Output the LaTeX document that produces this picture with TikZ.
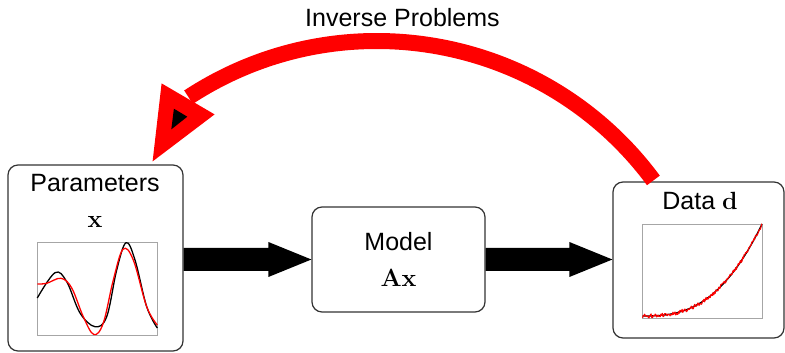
\documentclass[tikz,border=0pt]{standalone}
\usepackage[no-math]{fontspec}
\newfontfamily\labelfont{Liberation Sans}
\usetikzlibrary{calc}

% fat black block arrow between two points at the same height
\newcommand\fatarrow[2]{%
  \fill ($(#1)+(0,11.5)$) -- ($(#2)+(-43,11.5)$) -- ($(#2)+(-43,17.5)$) -- (#2)
        -- ($(#2)+(-43,-17.5)$) -- ($(#2)+(-43,-11.5)$) -- ($(#1)+(0,-11.5)$) -- cycle;}

\begin{document}
\begin{tikzpicture}[x=1pt,y=1pt,
  panel/.style={draw=black!80, line width=1.2pt, rounded corners=10pt, fill=white, inner sep=0pt},
  frame/.style={draw=black!35, line width=0.9pt, inner sep=0pt},
  label/.style={font=\labelfont\fontsize{25}{30}\selectfont, anchor=base, inner sep=0pt},
  inverse/.style={draw=red, line width=16pt},
  curve/.style={line width=1.3pt, line join=round}]
\useasboundingbox (0,0) rectangle (785,353);
\pgfmathsetseed{4711}

% boxes
\node[panel, minimum width=175pt, minimum height=186pt] (params) at (95.5,95) {};
\node[panel, minimum width=173pt, minimum height=105pt] (model) at (398.5,93.5) {};
\node[panel, minimum width=171pt, minimum height=156pt] (data) at (698.5,93) {};

% feedback arc from the data back to the parameters
\coordinate (arcstart) at ($(data.north west)+(41,1)$);
\draw[inverse] (arcstart) arc[start angle=36.5, end angle=123.2, radius=344];
\coordinate (headtip) at ($(params.north east)+(-31,3)$);
\fill[red] (headtip) -- ($(headtip)+(9,78)$) -- ($(headtip)+(62,47)$) -- cycle;
\fill[black] ($(headtip)+(21.3,52.7)$) -- ($(headtip)+(18.7,32)$) -- ($(headtip)+(34.7,44.7)$) -- cycle;

% small plots
\node[frame, minimum width=120pt, minimum height=93pt] (xplot) at (97,64.5) {};
\node[frame, minimum width=120pt, minimum height=94pt] (dplot) at (702,82) {};

\draw[curve, black] plot[smooth, tension=0.6] coordinates {
  (37.3,55) (55,80.3) (66.7,71.3) (80,40) (95,26.3) (106.7,36.3)
  (116.7,83) (126,110.3) (135,93) (146.7,46.3) (157.3,25)};
\draw[curve, red] plot[smooth, tension=0.6] coordinates {
  (37.3,69) (46.7,69.7) (61,74.7) (71.7,65) (83.3,36.3) (93.8,18.5) (103.3,30)
  (113.3,73) (123,103.7) (133.3,93) (146.7,46.3) (157.3,28)};

\draw[curve, black] plot[domain=0.005:1, samples=60] ({642+120*\x},{37+92*(\x)^2.7});
\draw[red, line width=1.1pt, line join=round] plot[domain=0.005:1, samples=170]
  ({642+120*\x},{37+92*(\x)^2.7+2*rand});

% labels
\node[label] (paramstitle) at (95,161) {Parameters};
\node[label] (paramssym) at (95,125) {$\mathbf{x}$};
\node[label] (modeltitle) at (398.5,102) {Model};
\node[label] (modelsym) at (398.5,66) {$\mathbf{Ax}$};
\node[label] (datatitle) at (700,143) {Data $\mathbf{d}$};
\node[label] (inversetitle) at (402.5,326) {Inverse Problems};

% forward arrows
\coordinate (fwd1) at (params.east |- model.west);
\fatarrow{fwd1}{model.west}
\coordinate (fwd2) at (data.west |- model.east);
\fatarrow{model.east}{fwd2}
\end{tikzpicture}
\end{document}
